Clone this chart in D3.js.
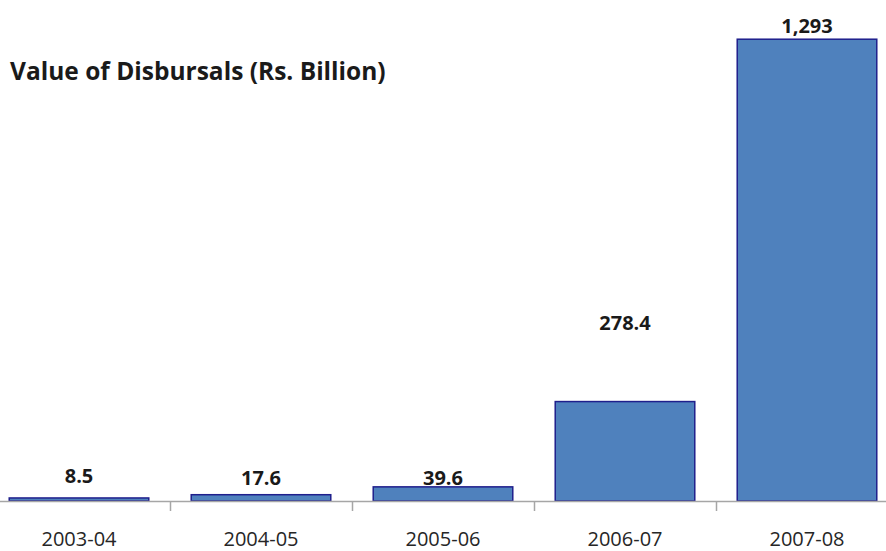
<!DOCTYPE html>
<html>
<head>
<meta charset="utf-8">
<script src="https://cdn.jsdelivr.net/npm/d3@7"></script>
<style>
  html, body { margin: 0; padding: 0; background: #ffffff; }
  svg { display: block; }
</style>
</head>
<body>
<svg id="chart" width="886" height="551"></svg>
<script>
// ---- data ----
const categories = ["2003-04", "2004-05", "2005-06", "2006-07", "2007-08"];
const values = [8.5, 17.6, 39.6, 278.4, 1293];
const valueLabels = ["8.5", "17.6", "39.6", "278.4", "1,293"];
const title = "Value of Disbursals (Rs. Billion)";
const yMax = 1400;

// ---- layout (label placement as in the original, px above bar top) ----
const labelLift = [15, 10, 2, 72, 6];

const W = 886, H = 551;
const svg = d3.select("#chart");

const x = d3.scaleBand()
  .domain(categories)
  .range([-12, 898])
  .paddingInner(0.225)
  .paddingOuter(0.1125);

const y = d3.scaleLinear().domain([0, yMax]).range([501, 1]);

// bars
svg.append("g").selectAll("rect")
  .data(values)
  .join("rect")
  .attr("x", (d, i) => x(categories[i]) + 0.75)
  .attr("y", d => y(d))
  .attr("width", x.bandwidth() - 1.5)
  .attr("height", d => y(0) - y(d))
  .attr("fill", "#4F81BD")
  .attr("stroke", "#1F1F8C")
  .attr("stroke-width", 1.5);

// x axis
const xAxis = d3.axisBottom(x).tickSize(0).tickFormat(() => "");
const gx = svg.append("g").attr("transform", `translate(0,${y(0)})`).call(xAxis);
gx.select(".domain").remove();
svg.append("line")
  .attr("x1", 0).attr("x2", W)
  .attr("y1", y(0) + 0.5).attr("y2", y(0) + 0.5)
  .attr("stroke", "#A6A6A6").attr("stroke-width", 1.5);

// tick marks at category boundaries
const step = x.step();
svg.append("g").selectAll("line")
  .data(categories.slice(1))
  .join("line")
  .attr("x1", d => Math.round(x(d) - (step - x.bandwidth()) / 2) + 0.5)
  .attr("x2", d => Math.round(x(d) - (step - x.bandwidth()) / 2) + 0.5)
  .attr("y1", y(0))
  .attr("y2", y(0) + 10)
  .attr("stroke", "#A6A6A6").attr("stroke-width", 1.5);

// category labels
svg.append("g").selectAll("text")
  .data(categories)
  .join("text")
  .attr("x", d => x(d) + x.bandwidth() / 2)
  .attr("y", 546)
  .attr("text-anchor", "middle")
  .attr("font-family", "'Open Sans', sans-serif")
  .attr("font-size", "20px")
  .attr("fill", "#262626")
  .text(d => d);

// value labels
svg.append("g").selectAll("text")
  .data(values)
  .join("text")
  .attr("x", (d, i) => x(categories[i]) + x.bandwidth() / 2)
  .attr("y", (d, i) => y(d) - labelLift[i])
  .attr("text-anchor", "middle")
  .attr("font-family", "'Open Sans', sans-serif")
  .attr("font-weight", "bold")
  .attr("font-size", "20px")
  .attr("fill", "#1a1a1a")
  .text((d, i) => valueLabels[i]);

// title
svg.append("text")
  .attr("x", 10)
  .attr("y", 80)
  .attr("font-family", "'Open Sans', sans-serif")
  .attr("font-weight", "bold")
  .attr("font-size", "24.5px")
  .attr("fill", "#1a1a1a")
  .text(title);
</script>
</body>
</html>
